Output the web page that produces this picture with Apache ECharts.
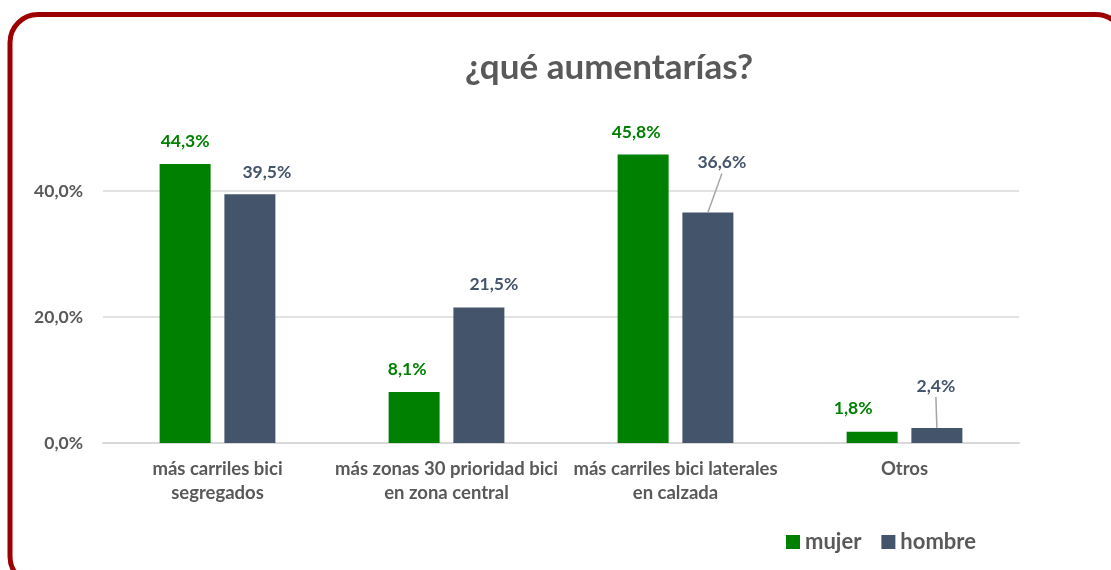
<!DOCTYPE html>
<html>
<head>
<meta charset="utf-8">
<script src="https://cdn.jsdelivr.net/npm/echarts@6/dist/echarts.min.js"></script>
<style>
  html, body { margin: 0; padding: 0; background: #fff; }
  #chart { width: 1111px; height: 570px; }
</style>
</head>
<body>
<div id="chart"></div>
<script>
// datos
const categorias = [
  'más carriles bici\nsegregados',
  'más zonas 30 prioridad bici\nen zona central',
  'más carriles bici laterales\nen calzada',
  'Otros'
];
const mujer = [44.3, 8.1, 45.8, 1.8];
const hombre = [39.5, 21.5, 36.6, 2.4];
const ticksY = [0, 20, 40];

// desplazamiento de etiquetas (dx, dy) como en el original
const nudgeMujer = [[0, -14], [-7, -14], [-7, -13], [-19, -14]];
const nudgeHombre = [[17, -13], [15, -14], [14, -41], [-1, -33]];
const conLinea = [false, false, true, true];

const gris = '#595959';
const verde = '#008000';
const azulGris = '#44546A';
const fuente = 'Lato, "Open Sans", sans-serif';
const anchoBarra = 51;
const huecoBarra = 0.27;

function fmt(v) {
  return v.toFixed(1).replace('.', ',') + '%';
}

let chart = echarts.init(document.getElementById('chart'));

let option = {
  animation: false,
  textStyle: { fontFamily: fuente },
  title: {
    text: '¿qué aumentarías?',
    left: 604,
    top: 45,
    textAlign: 'center',
    textStyle: { fontSize: 35, fontWeight: 'bold', color: gris, fontFamily: fuente }
  },
  legend: {
    left: 781,
    top: 526,
    itemWidth: 14,
    itemHeight: 14,
    itemGap: 20,
    icon: 'rect',
    textStyle: { fontSize: 22, fontWeight: 'bold', color: gris, fontFamily: fuente },
    data: ['mujer', 'hombre']
  },
  grid: { left: 103, right: 92, top: 128, bottom: 127 },
  graphic: [{
    type: 'rect',
    z: -1,
    shape: { x: 10, y: 14.5, width: 1114, height: 570, r: 28 },
    style: { fill: 'none', stroke: '#9c0000', lineWidth: 5 }
  }],
  xAxis: {
    type: 'category',
    data: categorias,
    axisTick: { show: false },
    axisLine: { lineStyle: { color: '#d9d9d9', width: 2 } },
    axisLabel: {
      margin: 14,
      interval: 0,
      fontSize: 18.5,
      lineHeight: 24,
      fontWeight: 'bold',
      color: gris,
      fontFamily: fuente
    }
  },
  yAxis: {
    type: 'value',
    min: ticksY[0],
    max: 50,
    interval: ticksY[1] - ticksY[0],
    axisLine: { show: false },
    axisTick: { show: false },
    splitLine: { showMaxLine: false, lineStyle: { color: '#d9d9d9', width: 1.5 } },
    axisLabel: {
      margin: 20,
      showMaxLabel: false,
      fontSize: 17.5,
      fontWeight: 'bold',
      color: gris,
      fontFamily: fuente,
      formatter: v => fmt(v)
    }
  },
  series: [
    {
      name: 'mujer',
      type: 'bar',
      barWidth: anchoBarra,
      barGap: huecoBarra * 100 + '%',
      itemStyle: { color: verde },
      label: {
        show: true,
        position: 'top',
        distance: 0,
        fontSize: 17.5,
        fontWeight: 'bold',
        color: verde,
        fontFamily: fuente,
        formatter: p => fmt(p.value)
      },
      labelLayout: p => ({ dx: nudgeMujer[p.dataIndex][0], dy: nudgeMujer[p.dataIndex][1] }),
      data: mujer
    },
    {
      name: 'hombre',
      type: 'bar',
      barWidth: anchoBarra,
      barGap: huecoBarra * 100 + '%',
      itemStyle: { color: azulGris },
      label: {
        show: true,
        position: 'top',
        distance: 0,
        fontSize: 17.5,
        fontWeight: 'bold',
        color: azulGris,
        fontFamily: fuente,
        formatter: p => fmt(p.value)
      },
      labelLayout: p => ({ dx: nudgeHombre[p.dataIndex][0], dy: nudgeHombre[p.dataIndex][1] }),
      data: hombre
    },
    {
      // lineas guia de las etiquetas desplazadas
      name: 'guia',
      type: 'custom',
      silent: true,
      z: 5,
      renderItem: (params, api) => {
        const i = api.value(0);
        if (!conLinea[i]) return null;
        const p = api.coord([i, api.value(1)]);
        const cx = p[0] + anchoBarra * (1 + huecoBarra) / 2;
        const d = nudgeHombre[i];
        return {
          type: 'line',
          shape: { x1: cx + d[0], y1: p[1] + d[1] + 2, x2: cx, y2: p[1] },
          style: { stroke: '#a6a6a6', lineWidth: 1.5 }
        };
      },
      data: hombre.map((v, i) => [i, v])
    }
  ]
};

option && chart.setOption(option);
</script>
</body>
</html>
